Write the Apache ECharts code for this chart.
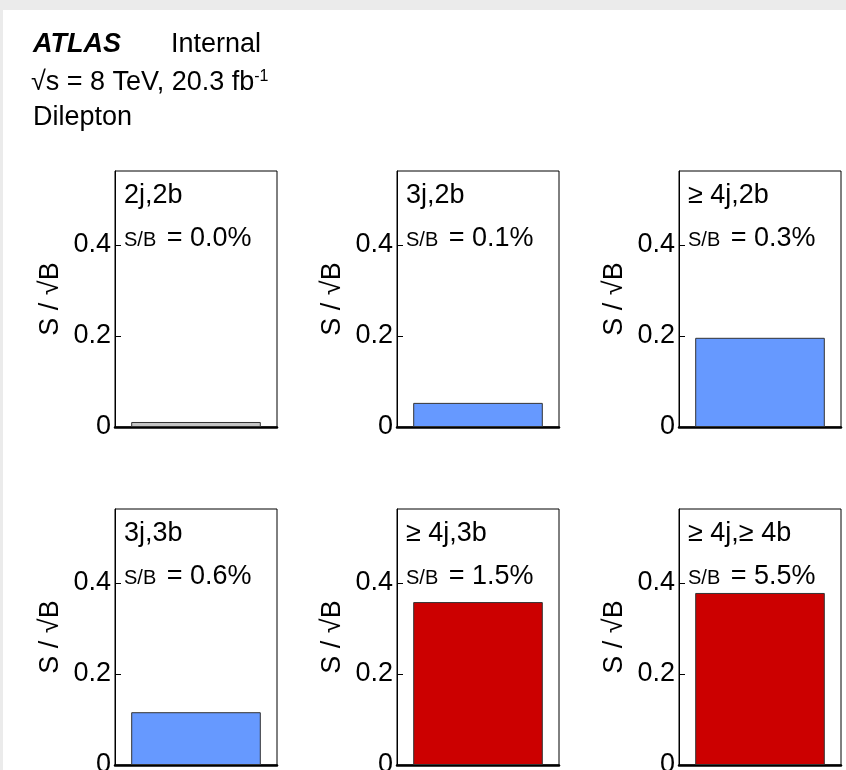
<!DOCTYPE html>
<html>
<head>
<meta charset="utf-8">
<title>S / sqrt(B) per region</title>
<script src="https://cdn.jsdelivr.net/npm/echarts@6/dist/echarts.min.js"></script>
<style>
  html, body { margin: 0; padding: 0; background: #ebebeb; }
  #main { width: 846px; height: 770px; }
</style>
</head>
<body>
<div id="main"></div>
<script>
// data
const regions = ['2j,2b', '3j,2b', '≥ 4j,2b', '3j,3b', '≥ 4j,3b', '≥ 4j,≥ 4b']
const sOverB = ['0.0%', '0.1%', '0.3%', '0.6%', '1.5%', '5.5%']
const sOverSqrtB = [0.011, 0.053, 0.196, 0.116, 0.358, 0.378]
const purity = ['none', 'low', 'low', 'low', 'high', 'high']
const yTicks = [0, 0.2, 0.4]
const yMax = 0.5625

// styling / layout
const FONT = '"Liberation Sans", Arial, Helvetica, sans-serif'
const fillColor = { none: '#c4c4c4', low: '#6699ff', high: '#cc0000' }
const colLeft = [115, 397, 679]
const rowTop = [171, 509]
const boxW = 162
const boxH = 256

let grids = []
let xAxes = []
let yAxes = []
let series = []
let graphics = [{
  type: 'rect',
  z: -10,
  shape: { x: 3, y: 10, width: 843, height: 760 },
  style: { fill: '#fff' }
}]

regions.forEach((name, i) => {
  let left = colLeft[i % 3]
  let top = rowTop[Math.floor(i / 3)]
  grids.push({
    left: left,
    top: top,
    width: boxW,
    height: boxH,
    show: true,
    borderColor: '#000',
    borderWidth: 1,
    backgroundColor: 'transparent',
    outerBoundsMode: 'none'
  })
  xAxes.push({
    type: 'category',
    gridIndex: i,
    data: [name],
    axisLabel: { show: false },
    axisTick: { show: false },
    axisLine: { lineStyle: { color: '#000', width: 2.5 } }
  })
  yAxes.push({
    type: 'value',
    gridIndex: i,
    min: 0,
    max: yMax,
    interval: 0.2,
    splitLine: { show: false },
    axisLine: { show: true, lineStyle: { color: '#000', width: 1 } },
    axisTick: { show: true, inside: true, length: 6, lineStyle: { color: '#000' } },
    axisLabel: {
      showMaxLabel: false,
      margin: 4,
      color: '#000',
      fontSize: 27,
      fontFamily: FONT,
      formatter: v => (yTicks.indexOf(Math.round(v * 10) / 10) >= 0 ? String(Math.round(v * 10) / 10) : '')
    },
    name: 'S / √B',
    nameLocation: 'middle',
    nameRotate: 90,
    nameGap: 51,
    nameTextStyle: { color: '#000', fontSize: 27, fontFamily: FONT }
  })
  series.push({
    type: 'bar',
    xAxisIndex: i,
    yAxisIndex: i,
    barWidth: '80%',
    data: [sOverSqrtB[i]],
    itemStyle: { color: fillColor[purity[i]], borderColor: '#333', borderWidth: 1 },
    silent: true
  })
  // region label and S/B inside the box
  graphics.push({
    type: 'text',
    left: left + 9,
    top: top + 11,
    style: { text: name, fill: '#000', font: '27px ' + FONT }
  })
  graphics.push({
    type: 'text',
    left: left + 9,
    top: top + 54,
    style: {
      text: '{s|S/B}{b| = ' + sOverB[i] + '}',
      rich: {
        s: { fontSize: 20, fontFamily: FONT, fill: '#000', verticalAlign: 'bottom', padding: [0, 3, 2, 0] },
        b: { fontSize: 27, fontFamily: FONT, fill: '#000', verticalAlign: 'bottom' }
      }
    }
  })
})

// ATLAS header
graphics.push({
  type: 'text', left: 33, top: 31,
  style: { text: 'ATLAS', fill: '#000', font: 'italic bold 27px ' + FONT }
})
graphics.push({
  type: 'text', left: 171, top: 31,
  style: { text: 'Internal', fill: '#000', font: '27px ' + FONT }
})
graphics.push({
  type: 'text', left: 31, top: 69,
  style: {
    text: '{n|√s = 8 TeV, 20.3 fb}{u|-1}',
    rich: {
      n: { fontSize: 27, fontFamily: FONT, fill: '#000' },
      u: { fontSize: 16, fontFamily: FONT, fill: '#000', verticalAlign: 'top' }
    }
  }
})
graphics.push({
  type: 'text', left: 33, top: 104,
  style: { text: 'Dilepton', fill: '#000', font: '27px ' + FONT }
})

let myChart = echarts.init(document.getElementById('main'))
myChart.setOption({
  backgroundColor: '#ebebeb',
  animation: false,
  grid: grids,
  xAxis: xAxes,
  yAxis: yAxes,
  series: series,
  graphic: graphics
})
</script>
</body>
</html>
